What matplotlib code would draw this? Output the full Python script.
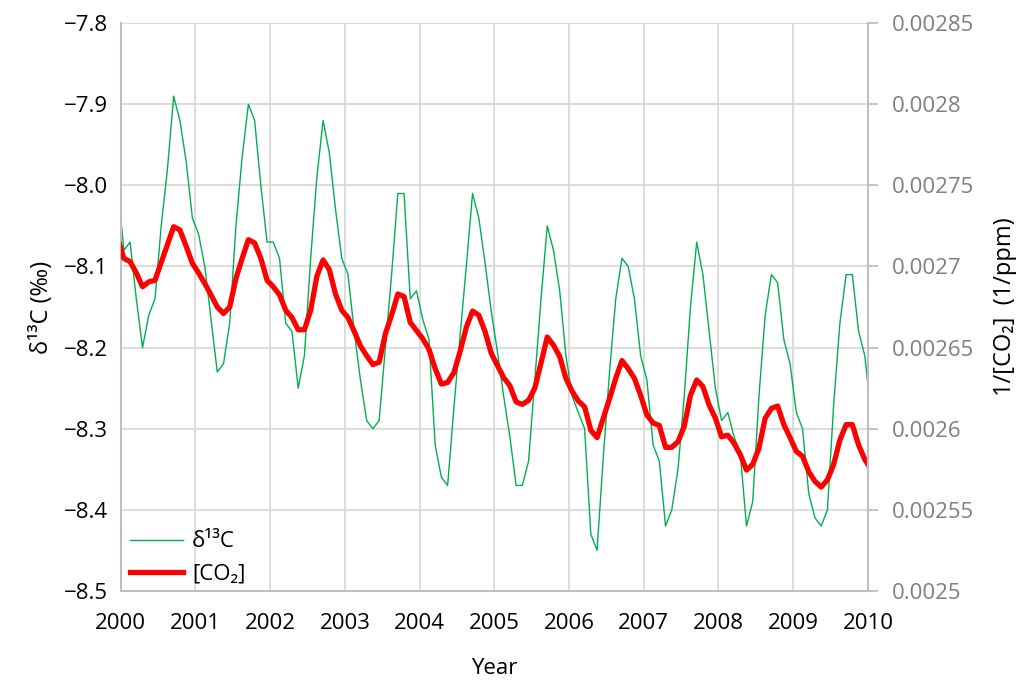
import numpy as np
import matplotlib
matplotlib.use("Agg")
import matplotlib.pyplot as plt

plt.rcParams['font.family'] = ['Open Sans', 'DejaVu Sans']

# monthly samples, Dec 1999 .. Jan 2010 (mid-month decimal dates)
n_months = 122
t = 1999 + (np.arange(n_months) + 11.5) / 12

# delta 13C of atmospheric CO2 (per mil)
d13c = [
    -8.00,
    -8.08, -8.07, -8.14, -8.20, -8.16, -8.14, -8.05, -7.98, -7.89, -7.92, -7.97, -8.04,   # 2000
    -8.06, -8.10, -8.165, -8.23, -8.22, -8.17, -8.05, -7.965, -7.90, -7.92, -8.00, -8.07,  # 2001
    -8.07, -8.09, -8.17, -8.18, -8.25, -8.21, -8.09, -7.99, -7.92, -7.96, -8.03, -8.09,   # 2002
    -8.11, -8.18, -8.24, -8.29, -8.30, -8.29, -8.20, -8.11, -8.01, -8.01, -8.14, -8.13,   # 2003
    -8.165, -8.19, -8.32, -8.36, -8.37, -8.275, -8.185, -8.10, -8.01, -8.04, -8.095, -8.155,  # 2004
    -8.205, -8.26, -8.31, -8.37, -8.37, -8.34, -8.24, -8.14, -8.05, -8.08, -8.13, -8.21,  # 2005
    -8.26, -8.28, -8.30, -8.43, -8.45, -8.335, -8.23, -8.14, -8.09, -8.10, -8.14, -8.21,  # 2006
    -8.24, -8.32, -8.34, -8.42, -8.40, -8.35, -8.26, -8.15, -8.07, -8.11, -8.18, -8.25,   # 2007
    -8.29, -8.28, -8.31, -8.33, -8.42, -8.39, -8.26, -8.16, -8.11, -8.12, -8.19, -8.22,   # 2008
    -8.28, -8.30, -8.38, -8.41, -8.42, -8.40, -8.27, -8.17, -8.11, -8.11, -8.18, -8.21,   # 2009
    -8.28,
]

# inverse CO2 mole fraction (1/ppm)
inv_co2 = [
    0.0027175,
    0.0027050, 0.0027030, 0.0026960, 0.0026875, 0.0026905, 0.0026915,
    0.0027025, 0.0027135, 0.0027245, 0.0027225, 0.0027125, 0.0027020,   # 2000
    0.0026960, 0.0026895, 0.0026825, 0.0026750, 0.0026710, 0.0026750,
    0.0026925, 0.0027050, 0.0027165, 0.0027145, 0.0027050, 0.0026915,   # 2001
    0.0026875, 0.0026825, 0.0026730, 0.0026685, 0.0026610, 0.0026610,
    0.0026730, 0.0026940, 0.0027040, 0.0026980, 0.0026830, 0.0026730,   # 2002
    0.0026685, 0.0026600, 0.0026510, 0.0026450, 0.0026395, 0.0026410,
    0.0026585, 0.0026700, 0.0026830, 0.0026815, 0.0026655, 0.0026605,   # 2003
    0.0026555, 0.0026490, 0.0026370, 0.0026275, 0.0026285, 0.0026345,
    0.0026475, 0.0026625, 0.0026725, 0.0026700, 0.0026600, 0.0026465,   # 2004
    0.0026390, 0.0026315, 0.0026265, 0.0026165, 0.0026150, 0.0026175,
    0.0026250, 0.0026405, 0.0026565, 0.0026515, 0.0026445, 0.0026310,   # 2005
    0.0026230, 0.0026170, 0.0026135, 0.0025990, 0.0025945, 0.0026065,
    0.0026185, 0.0026310, 0.0026420, 0.0026370, 0.0026310, 0.0026205,   # 2006
    0.0026085, 0.0026035, 0.0026020, 0.0025885, 0.0025885, 0.0025920,
    0.0026015, 0.0026205, 0.0026300, 0.0026260, 0.0026145, 0.0026065,   # 2007
    0.0025950, 0.0025960, 0.0025910, 0.0025840, 0.0025745, 0.0025780,
    0.0025880, 0.0026065, 0.0026125, 0.0026140, 0.0026025, 0.0025945,   # 2008
    0.0025860, 0.0025830, 0.0025735, 0.0025675, 0.0025640, 0.0025685,
    0.0025780, 0.0025930, 0.0026025, 0.0026025, 0.0025900, 0.0025810,   # 2009
    0.0025750,
]

years = list(range(2000, 2011))
left_ticks = [-8.5, -8.4, -8.3, -8.2, -8.1, -8.0, -7.9, -7.8]
right_ticks = [0.0025, 0.00255, 0.0026, 0.00265, 0.0027, 0.00275, 0.0028, 0.00285]

green = '#00b050'
red = '#ff0000'
axis_grey = '#bfbfbf'
fs = 16
fs_label = 17

fig = plt.figure(figsize=(10.32, 6.8), dpi=100)
ax = fig.add_axes([0.117, 0.131, 0.724, 0.835])

l1, = ax.plot(t, d13c, color=green, lw=1.0, label='δ¹³C')
ax.set_xlim(2000, 2010)
ax.set_ylim(-8.5, -7.8)
ax.set_xticks(years)
ax.set_xticklabels([str(y) for y in years])
ax.set_yticks(left_ticks)
ax.set_yticklabels([f'{v:.1f}'.replace('-', '\u2212') for v in left_ticks])
ax.grid(True, color='#d9d9d9', lw=1.3)
ax.set_axisbelow(True)
ax.tick_params(axis='both', length=0, labelsize=fs)
ax.tick_params(axis='x', pad=16)
ax.tick_params(axis='y', pad=9)
for s in ['top', 'right']:
    ax.spines[s].set_visible(False)
for s in ['left', 'bottom']:
    ax.spines[s].set_color(axis_grey)
    ax.spines[s].set_linewidth(1.5)
ax.set_xlabel('Year', fontsize=fs, labelpad=17)
ax.set_ylabel('δ¹³C (‰)', fontsize=fs_label, labelpad=7)

ax2 = ax.twinx()
l2, = ax2.plot(t, inv_co2, color=red, lw=3.8, label='[CO₂]', solid_joinstyle='round')
ax2.set_ylim(0.0025, 0.00285)
ax2.set_yticks(right_ticks)
ax2.set_yticklabels([f'{v:g}' for v in right_ticks])
ax2.tick_params(axis='y', length=7, width=1.3, color=axis_grey,
                labelcolor='#7f7f7f', labelsize=fs, pad=10)
for s in ['top', 'left', 'bottom']:
    ax2.spines[s].set_visible(False)
ax2.spines['right'].set_color(axis_grey)
ax2.spines['right'].set_linewidth(1.5)
ax2.set_ylabel('1/[CO₂]  (1/ppm)', fontsize=fs_label, labelpad=14)

ax2.legend(handles=[l1, l2], loc='lower left', bbox_to_anchor=(-0.012, -0.02),
           frameon=False, fontsize=fs, handlelength=2.4, handletextpad=0.4,
           labelspacing=0.5, borderpad=0.3)

fig.savefig('out.png', dpi=100)
